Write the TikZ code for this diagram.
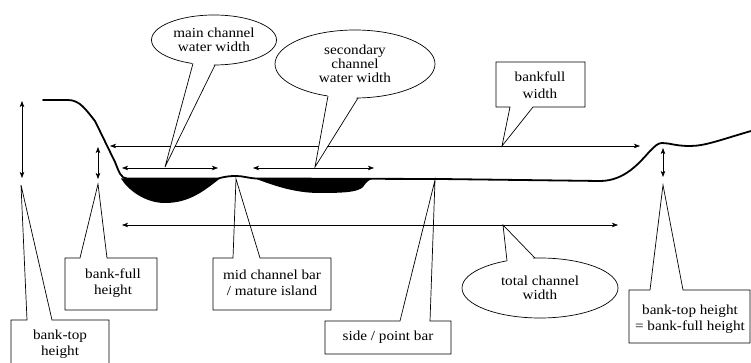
\documentclass[tikz,border=0pt]{standalone}
\usepackage{fontspec}
\setmainfont{Liberation Serif}[FakeStretch=1.1]
\usetikzlibrary{arrows.meta,shapes.geometric}
\begin{document}
\begin{tikzpicture}[x=1pt,y=-1pt,
  lbl/.style={font=\fontsize{13.8}{14}\selectfont, align=center, inner sep=0pt},
  bubble/.style={lbl, ellipse, draw, line width=0.7pt, fill=white},
  boxlbl/.style={lbl, font=\fontsize{13.8}{16.5}\selectfont},
  outline/.style={line width=0.7pt, line join=miter},
  meas/.style={line width=0.7pt, {Stealth[length=6pt,width=4.5pt,inset=1.5pt]}-{Stealth[length=6pt,width=4.5pt,inset=1.5pt]}},
  profile/.style={line width=1.8pt, line cap=round, line join=round},
  water/.style={fill=black},
  mask/.style={fill=white}
]
\useasboundingbox (0,0) rectangle (751,363);

% ---------- water bodies ----------
\fill[water] (121,178.5) .. controls (128,190) and (145,203) .. (165,203)
   .. controls (190,203) and (205,190) .. (220,178.5) -- cycle;
\fill[water] (255,178.5) .. controls (275,186) and (295,193) .. (320,193)
   .. controls (345,193) and (358,192) .. (363,187)
   .. controls (366,183) and (368,179.5) .. (374,178.5) -- cycle;

% ---------- ground profile ----------
\draw[profile] (43,100) -- (68,100) .. controls (80,100) and (86,110) .. (95,121)
   -- (115,162) .. controls (119,172) and (121,178.5) .. (127,178.5)
   -- (218,178.5) .. controls (225,176.5) and (230,176) .. (236,176)
   .. controls (243,176) and (248,178) .. (256,178.5)
   -- (440,179) -- (600,181)
   .. controls (625,181) and (640,162) .. (650,151)
   .. controls (655,146) and (658,143) .. (662,143)
   .. controls (670,143) and (675,146) .. (690,146)
   .. controls (705,146) and (720,140) .. (751,131);

% ---------- measurement arrows ----------
\coordinate (bt1) at (22,101);   \coordinate (bt2) at (22,178);
\coordinate (bf1) at (98,147);   \coordinate (bf2) at (98,179);
\coordinate (bw1) at (110,146);  \coordinate (bw2) at (640,146);
\coordinate (mw1) at (122,168);  \coordinate (mw2) at (218,168);
\coordinate (sw1) at (253,168);  \coordinate (sw2) at (374,168);
\coordinate (tw1) at (122,225);  \coordinate (tw2) at (618,225);
\coordinate (rh1) at (663,148);  \coordinate (rh2) at (663,177);
\draw[meas] (bt1) -- (bt2);
\draw[meas] (bf1) -- (bf2);
\draw[meas] (bw1) -- (bw2);
\draw[meas] (mw1) -- (mw2);
\draw[meas] (sw1) -- (sw2);
\draw[meas] (tw1) -- (tw2);
\draw[meas] (rh1) -- (rh2);

% ---------- ellipse callouts ----------
\coordinate (mcwtip) at (165,167);
\node[bubble, minimum width=125pt, minimum height=50pt] (mcw) at (214,40) {main channel\\water width};
\fill[mask] (193,61) -- (mcwtip) -- (215,62.5) -- cycle;
\draw[outline] (193,63.5) -- (mcwtip) -- (215,65);

\coordinate (scwtip) at (315,167);
\node[bubble, minimum width=160pt, minimum height=68pt] (scw) at (355,64) {secondary\\channel\\water width};
\fill[mask] (328,93) -- (scwtip) -- (358,95) -- cycle;
\draw[outline] (328,96) -- (scwtip) -- (358,98);

\coordinate (tcwtip) at (503,225);
\node[bubble, minimum width=156pt, minimum height=60pt] (tcw) at (540,288) {total channel\\width};
\fill[mask] (507,263.8) -- (tcwtip) -- (535,261) -- cycle;
\draw[outline] (507,260.8) -- (tcwtip) -- (535,258.1);

% ---------- box callouts ----------
\coordinate (bfwtip) at (502,146);
\node[boxlbl] (bfw) at (540,85) {bankfull\\width};
\draw[outline] (510,107) -- (496,107) -- (496,62) -- (585,62) -- (585,107) -- (533,107) -- (bfwtip) -- cycle;

\coordinate (bthtip) at (21,185);
\node[boxlbl] (bth) at (60,344) {bank-top\\height};
\draw[outline] (11,364) -- (11,320) -- (27,320) -- (bthtip) -- (52,320) -- (109,320) -- (109,364);

\coordinate (bfhtip) at (98,184);
\node[boxlbl] (bfh) at (113,283) {bank-full\\height};
\draw[outline] (80,258) -- (65,258) -- (65,310) -- (157,310) -- (157,258) -- (107,258) -- (bfhtip) -- cycle;

\coordinate (mcbtip) at (236,179);
\node[boxlbl] (mcb) at (272,283) {mid channel bar\\/ mature island};
\draw[outline] (233,258) -- (213,258) -- (213,310) -- (331,310) -- (331,258) -- (260,258) -- (mcbtip) -- cycle;

\coordinate (spbtip) at (435,180);
\node[boxlbl] (spb) at (388,337) {side / point bar};
\draw[outline] (400,321) -- (325,321) -- (325,354) -- (451,354) -- (451,321) -- (430,321) -- (spbtip) -- cycle;

\coordinate (rbtip) at (663,185);
\node[boxlbl] (rb) at (690,319) {bank-top height\\= bank-full height};
\draw[outline] (650,290) -- (629,290) -- (629,343) -- (750,343) -- (750,290) -- (683,290) -- (rbtip) -- cycle;
\end{tikzpicture}
\end{document}
